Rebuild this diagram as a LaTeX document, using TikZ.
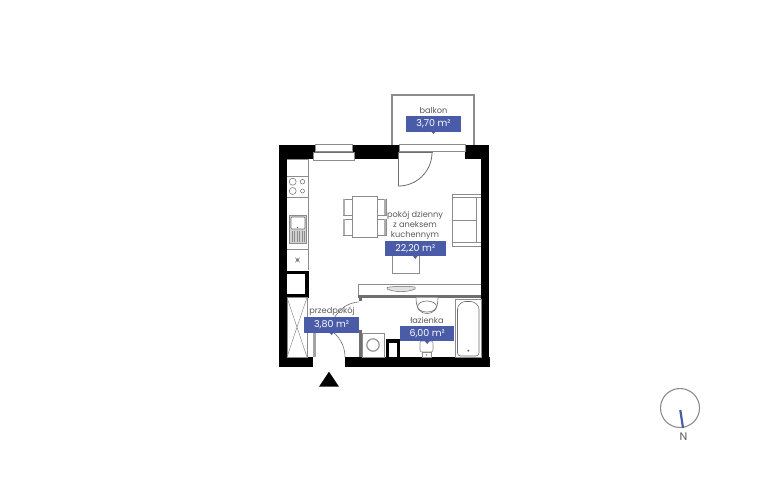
\documentclass[tikz,border=0pt]{standalone}
\usepackage{fontspec}
\setmainfont{Poppins}
\definecolor{lab}{HTML}{4A5CA8}
\definecolor{txt}{HTML}{5A5A5A}
\definecolor{ln}{HTML}{8C8C8C}
\definecolor{ln2}{HTML}{6E6E6E}
\tikzset{
 wall/.style={fill=black,draw=none},
 fix/.style={draw=ln,line width=.6pt,fill=white},
 roomlabel/.style={fill=lab,text=white,font=\fontsize{9.5}{10}\selectfont,inner sep=0pt,anchor=center},
 roomname/.style={text=txt,font=\fontsize{8.2}{9.9}\selectfont,inner sep=0pt,align=center,anchor=center}
}
\begin{document}
\begin{tikzpicture}[x=1pt,y=-1pt]
\useasboundingbox (0,0) rectangle (768,480);
\fill[white] (0,0) rectangle (768,480);
% balcony
\draw[draw=ln,line width=1.4pt] (392,144.5) -- (392,95) -- (474,95) -- (474,144.5);
% walls
\fill[wall] (278.5,144.5) rectangle (315,159);
\fill[wall] (352,144.5) rectangle (398.5,159);
\fill[wall] (465,144.5) rectangle (489,159);
\fill[wall] (278.5,144.5) rectangle (287,367);
\fill[wall] (480.7,144.5) rectangle (489,367);
\fill[wall] (278.5,357) rectangle (313,367);
\fill[wall] (345,357) rectangle (489.5,367);
% windows
\draw[fix] (315,144.5) rectangle (352,151);
\draw[fix] (313.5,152) rectangle (354,160);
\draw[draw=ln2,line width=1pt] (313.5,152) -- (354,152);
\draw[fix] (399,144.5) rectangle (465,151);
\draw[draw=ln2,line width=1pt] (398.5,152) -- (433,152);
% balcony door
\draw[draw=ln2,line width=.8pt] (398.5,152) -- (398.5,186) arc[start angle=90,end angle=0,radius=33.5];
% kitchen counter
\draw[draw=ln,line width=.6pt] (287,159) -- (308,159) -- (308,270);
\draw[ln,line width=.6pt] (287,176) -- (308,176) (287,197) -- (308,197) (287,249) -- (308,249);
\foreach \a/\b/\r in {292.7/181.7/3.5,292.7/191/3.5,302.5/181.7/2.3,302.5/191/2}
 \draw[ln2,line width=.5pt] (\a,\b) circle[radius=\r];
\draw[fix,fill=ln!40] (289,215.7) rectangle (306.7,243.3);
\draw[ln2,fill=white,line width=.6pt,rounded corners=1pt] (291,217) rectangle (305,229);
\foreach \a in {292,294.5,...,305}
 \draw[ln,line width=.7pt] (\a,231) -- (\a,242);
\fill[black!70] (297.5,227.5) circle[radius=.7];
\fill[black!70] (297.5,260) circle[radius=1.6];
\draw[ln,line width=.5pt] (295,257.5) -- (300,262.5) (295,262.5) -- (300,257.5);
% shaft
\fill[wall] (287,270.5) rectangle (308.5,297.5);
\fill[white] (287,274) rectangle (305,294);
% wardrobe
\draw[ln,line width=.5pt] (287,297.5) rectangle (307,357);
\draw[ln,line width=.5pt] (287,297.5) -- (307,357) (307,297.5) -- (287,357);
% table and chairs
\foreach \y in {199,219}{
 \draw[fix] (343,\y) rectangle (352,\y+16);
 \fill[ln!70] (343.3,\y+.4) rectangle (345,\y+15.6);
 \draw[fix] (377,\y) rectangle (386,\y+16);
 \fill[ln!70] (384,\y+.4) rectangle (385.7,\y+15.6);
}
\draw[fix] (352,196) rectangle (377,237.7);
% sofa
\draw[ln,line width=.6pt] (480.7,194) -- (452.7,194) -- (452.7,246) -- (480.7,246);
\draw[ln,line width=.5pt] (452.7,197.5) -- (480.7,197.5) (452.7,220) -- (476.7,220) (452.7,242.5) -- (480.7,242.5) (476.7,197.5) -- (476.7,242.5);
% desk
\draw[fix] (392,250) rectangle (419,273);
% counter strip
\draw[ln,line width=.6pt] (480.7,284) -- (358.5,284) -- (358.5,295);
\fill[ln2] (358,295) rectangle (481,297.5);
\draw[ln2,line width=.5pt,fill=ln!25] (387,287.5) .. controls (395,286) and (407,286) .. (415,287) -- (415,289) .. controls (407,292.5) and (395,292.5) .. (387,289) -- cycle;
% partition
\fill[ln2] (358.5,295) rectangle (362,301);
\fill[ln2] (358.5,330) rectangle (361.5,357);
% interior door arc
\draw[ln2,line width=.6pt] (358.5,302) .. controls (349,302.5) and (340,308) .. (333.5,319);
% entrance door
\fill[ln!80] (312.5,325) rectangle (315.5,357);
\draw[ln2,line width=.6pt] (345,357) arc[start angle=0,end angle=-60,radius=32];
% bathroom sink
\draw[ln2,line width=.6pt,fill=white] (416,297.5) .. controls (416,310) and (421,313.5) .. (427,313.5) .. controls (433,313.5) and (438,310) .. (438,297.5);
\draw[ln2,line width=.6pt] (427,306.5) ellipse[x radius=9.5,y radius=5.5];
% bath
\draw[fix] (455.7,299) rectangle (481,357);
\draw[ln2,line width=.6pt,rounded corners=3pt] (457.5,356) -- (457.5,312) .. controls (457.5,305) and (462,301.5) .. (468,301.5) .. controls (474,301.5) and (479,305) .. (479,312) -- (479,356) -- cycle;
\fill[black!70] (468.3,350.7) circle[radius=1];
% washer
\draw[fix] (362.7,333.3) rectangle (384,357);
\draw[ln,line width=1.1pt] (373,345) circle[radius=6.2];
% shaft 2
\fill[wall] (385.7,339.3) rectangle (400,357);
\fill[white] (388.5,343) rectangle (397,357);
% toilet
\draw[fix,rounded corners=2pt] (420,341) -- (433,341) -- (433,352) -- (420,352) -- cycle;
\draw[fix] (422,352) -- (431,352) -- (431,357) -- (422,357) -- cycle;
\fill[ln] (426.5,355) circle[radius=.9];
% labels
\node[roomname] (balkon) at (433.5,110) {balkon};
\node[roomlabel,minimum width=55pt,minimum height=15.4pt] (balkonarea) at (433.5,124) {3,70 m²};
\fill[lab] (431.3,131.6) -- (435.7,131.6) -- (433.5,134) -- cycle;
\node[roomname] (salon) at (415,225) {pokój dzienny\\z aneksem\\kuchennym};
\node[roomlabel,minimum width=60.7pt,minimum height=15.4pt] (salonarea) at (415.3,248.5) {22,20 m²};
\fill[lab] (413,256) -- (417.6,256) -- (415.3,259) -- cycle;
\node[roomname] (hall) at (332,311) {przedpokój};
\node[roomlabel,minimum width=55pt,minimum height=15.4pt] (hallarea) at (331.5,325) {3,80 m²};
\fill[lab] (329.3,332.6) -- (333.7,332.6) -- (331.5,335) -- cycle;
\node[roomname] (bath) at (427,320) {łazienka};
\node[roomlabel,minimum width=54.5pt,minimum height=15.4pt] (batharea) at (427.2,333.5) {6,00 m²};
\fill[lab] (424.7,341) -- (429.7,341) -- (427.2,344) -- cycle;
% entrance triangle
\fill[black] (329,371.7) -- (339,386.7) -- (319,386.7) -- cycle;
% compass
\draw[ln,line width=1.1pt] (680,408) circle[radius=19.5];
\draw[lab,line width=2.2pt] (680.3,410) -- (683,428);
\node[roomname,font=\fontsize{11}{12}\selectfont] (north) at (683.5,437) {N};
\end{tikzpicture}
\end{document}
